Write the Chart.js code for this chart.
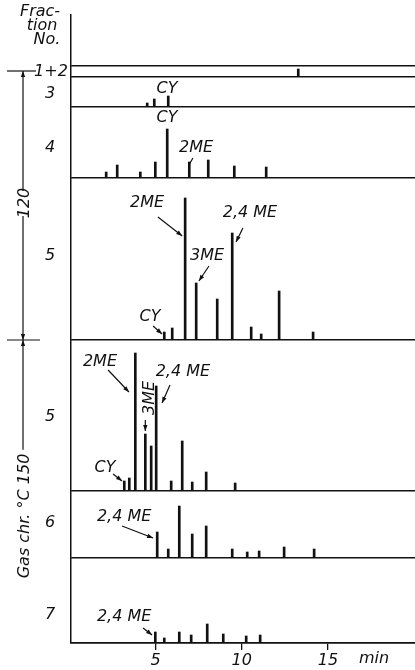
<!DOCTYPE html>
<html>
<head>
<meta charset="utf-8">
<script src="https://cdn.jsdelivr.net/npm/chart.js@4.4.0/dist/chart.umd.min.js"></script>
<style>
html, body { margin: 0; padding: 0; background: #fff; }
</style>
</head>
<body>
<canvas id="myChart" width="415" height="670"></canvas>
<script>
// retention time (min) and peak height (arbitrary units) per fraction
const times12 = [13.28];
const heights12 = [8];
const times3 = [4.52, 4.93, 5.74];
const heights3 = [4, 8, 11];
const times4 = [2.14, 2.78, 4.12, 4.99, 5.68, 6.96, 8.06, 9.57, 11.42];
const heights4 = [6, 13, 6, 16, 49, 16, 18, 12, 11];
const times5a = [5.51, 5.97, 6.72, 7.36, 8.58, 9.45, 10.55, 11.13, 12.17, 14.14];
const heights5a = [8, 12, 142, 57, 41, 107, 13, 6, 49, 8];
const times5b = [3.19, 3.48, 3.83, 4.41, 4.75, 5.04, 5.91, 6.55, 7.13, 7.94, 9.62];
const heights5b = [10, 13, 138, 57, 45, 105, 10, 50, 9, 19, 8];
const times6 = [5.10, 5.74, 6.38, 7.13, 7.94, 9.45, 10.32, 11.01, 12.46, 14.20];
const heights6 = [26, 9, 52, 24, 32, 9, 6, 7, 11, 9];
const times7 = [4.99, 5.51, 6.38, 7.07, 8.00, 8.93, 10.26, 11.07];
const heights7 = [11, 5, 11, 8, 19, 9, 7, 8];
const xTicks = [5, 10, 15];

const ink = '#111';
const font = '"DejaVu Sans", sans-serif';

// panels from top to bottom, size = share of the plot height
const panels = [
  { id: 'yTop', size: 51 },
  { id: 'y12', size: 11, t: times12, h: heights12, label: '1+2' },
  { id: 'y3', size: 30, t: times3, h: heights3, label: '3' },
  { id: 'y4', size: 71, t: times4, h: heights4, label: '4' },
  { id: 'y5a', size: 162, t: times5a, h: heights5a, label: '5' },
  { id: 'y5b', size: 151, t: times5b, h: heights5b, label: '5' },
  { id: 'y6', size: 67, t: times6, h: heights6, label: '6' },
  { id: 'y7', size: 85, t: times7, h: heights7, label: '7' }
];

const notes = [
  { p: 'y3', text: 'CY', at: [5.67, 18] },
  { p: 'y4', text: 'CY', at: [5.67, 60] },
  { p: 'y4', text: '2ME', at: [7.35, 30], from: [7.17, 20], to: [6.94, 13], plain: true },
  { p: 'y5a', text: '2ME', at: [4.51, 137], from: [5.14, 123], to: [6.55, 104] },
  { p: 'y5a', text: '3ME', at: [7.99, 84], from: [8.10, 74], to: [7.52, 59] },
  { p: 'y5a', text: '2,4 ME', at: [10.48, 127], from: [10.07, 112], to: [9.67, 98] },
  { p: 'y5a', text: 'CY', at: [4.68, 23], from: [4.86, 14], to: [5.38, 6] },
  { p: 'y5b', text: '2ME', at: [1.78, 129], from: [2.25, 121], to: [3.46, 99] },
  { p: 'y5b', text: '3ME', at: [4.70, 93], rotate: true, from: [4.41, 71], to: [4.41, 60] },
  { p: 'y5b', text: '2,4 ME', at: [6.59, 119], from: [5.84, 106], to: [5.38, 88] },
  { p: 'y5b', text: 'CY', at: [2.07, 23], from: [2.54, 17], to: [3.06, 10] },
  { p: 'y6', text: '2,4 ME', at: [3.18, 41], from: [3.06, 32], to: [4.86, 20] },
  { p: 'y7', text: '2,4 ME', at: [3.18, 26], from: [4.28, 15], to: [4.80, 8] }
];

function arrowHead(ctx, x1, y1, x2, y2) {
  const a = Math.atan2(y2 - y1, x2 - x1);
  ctx.beginPath();
  ctx.moveTo(x2, y2);
  ctx.lineTo(x2 - 6 * Math.cos(a) + 2.2 * Math.sin(a), y2 - 6 * Math.sin(a) - 2.2 * Math.cos(a));
  ctx.lineTo(x2 - 6 * Math.cos(a) - 2.2 * Math.sin(a), y2 - 6 * Math.sin(a) + 2.2 * Math.cos(a));
  ctx.closePath();
  ctx.fill();
}

function line(ctx, x1, y1, x2, y2) {
  ctx.beginPath();
  ctx.moveTo(x1, y1);
  ctx.lineTo(x2, y2);
  ctx.stroke();
}

const notesPlugin = {
  id: 'notes',
  afterDraw(chart) {
    const ctx = chart.ctx;
    const xs = chart.scales.x;
    ctx.save();
    ctx.fillStyle = ink;
    ctx.strokeStyle = ink;
    ctx.lineWidth = 1.2;
    ctx.font = 'italic 16px ' + font;
    ctx.textAlign = 'center';
    ctx.textBaseline = 'middle';

    notes.forEach(n => {
      const ys = chart.scales[n.p];
      const px = v => [xs.getPixelForValue(v[0]), ys.getPixelForValue(v[1])];
      const [tx, ty] = px(n.at);
      if (n.rotate) {
        ctx.save();
        ctx.translate(tx, ty);
        ctx.rotate(-Math.PI / 2);
        ctx.fillText(n.text, 0, 0);
        ctx.restore();
      } else {
        ctx.fillText(n.text, tx, ty);
      }
      if (n.from) {
        const [x1, y1] = px(n.from);
        const [x2, y2] = px(n.to);
        line(ctx, x1, y1, x2, y2);
        if (!n.plain) arrowHead(ctx, x1, y1, x2, y2);
      }
    });

    // fraction numbers
    ctx.fillText('Frac-', 40, 12);
    ctx.fillText('tion', 42, 26);
    ctx.fillText('No.', 47, 40);
    panels.forEach(p => {
      if (!p.label) return;
      const s = chart.scales[p.id];
      let y = (s.top + s.bottom) / 2;
      if (p.id === 'y3') y = s.top + 17;
      if (p.id === 'y4') y = s.top + 41;
      if (p.id === 'y5a') y = s.top + 78;
      if (p.id === 'y5b') y = s.top + 77;
      if (p.id === 'y6') y = s.top + 32;
      if (p.id === 'y7') y = s.top + 57;
      ctx.fillText(p.label, p.id === 'y12' ? 51 : 50, y);
    });

    // temperature ranges on the left
    const top = chart.scales.y12.getPixelForValue(6);
    const mid = chart.scales.y5a.bottom;
    const ax = 23;
    line(ctx, 7, top, 36, top);
    line(ctx, 7, mid, 40, mid);
    line(ctx, ax, top, ax, 191);
    line(ctx, ax, 216, ax, mid);
    arrowHead(ctx, ax, top + 20, ax, top);
    arrowHead(ctx, ax, mid - 20, ax, mid);
    arrowHead(ctx, ax, mid + 20, ax, mid);

    ctx.save();
    ctx.translate(25, 203);
    ctx.rotate(-Math.PI / 2);
    ctx.fillText('120', 0, 0);
    ctx.restore();

    const gas = 'Gas chr. \u00b0C 150';
    const gy = 516;
    const w = ctx.measureText(gas).width;
    ctx.save();
    ctx.translate(25, gy);
    ctx.rotate(-Math.PI / 2);
    ctx.fillText(gas, 0, 0);
    ctx.restore();
    line(ctx, ax, gy - w / 2 - 4, ax, mid);

    // axis unit
    ctx.fillText('min', 374, 659);
    ctx.restore();
  }
};

const scales = {
  x: {
    type: 'linear',
    position: 'bottom',
    offset: false,
    min: 0.1,
    max: 20.05,
    afterBuildTicks: s => { s.ticks = xTicks.map(v => ({ value: v })); },
    afterFit: s => { s.height = 27; },
    grid: { offset: false, drawOnChartArea: false, drawTicks: true, tickLength: 7, color: ink, lineWidth: 1.3 },
    border: { display: true, color: ink, width: 1.5 },
    ticks: { color: ink, padding: 1, maxRotation: 0, font: { family: font, style: 'italic', size: 16 } }
  }
};

panels.forEach((p, i) => {
  scales[p.id] = {
    type: 'linear',
    position: 'left',
    stack: 'gc',
    stackWeight: p.size,
    weight: panels.length - i,
    min: 0,
    max: p.size,
    afterBuildTicks: s => { s.ticks = [{ value: 0 }]; },
    afterFit: s => { s.width = 0; },
    ticks: { display: false },
    grid: { color: ink, lineWidth: 1.5, drawTicks: false },
    border: { display: true, color: ink, width: 1.5 }
  };
});

const datasets = panels.filter(p => p.t).map(p => ({
  label: p.id,
  yAxisID: p.id,
  xAxisID: 'x',
  data: p.t.map((t, i) => ({ x: t, y: p.h[i] })),
  backgroundColor: ink,
  barThickness: 2,
  grouped: false
}));

const myChart = new Chart(document.getElementById('myChart'), {
  type: 'bar',
  data: { datasets: datasets },
  options: {
    responsive: false,
    animation: false,
    devicePixelRatio: 1,
    layout: { padding: { left: 71, top: 15, right: 0, bottom: 0 } },
    plugins: { legend: { display: false }, tooltip: { enabled: false } },
    scales: scales
  },
  plugins: [notesPlugin]
});
</script>
</body>
</html>
